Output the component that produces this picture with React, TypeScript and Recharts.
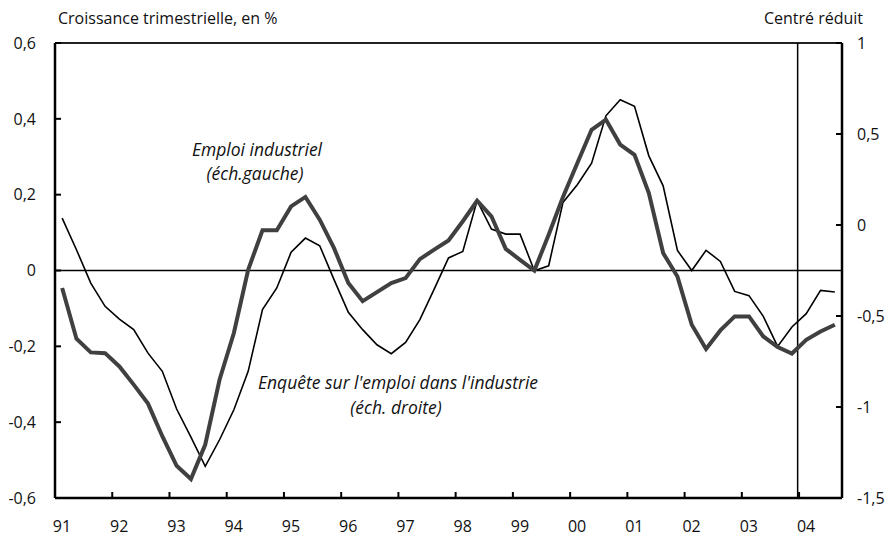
import { LineChart, Line, XAxis, YAxis, ReferenceLine } from "recharts";

// croissance trimestrielle de l'emploi industriel, en % (échelle gauche), 91T1 -> 04T3
const emploiIndustriel = [
  -0.046, -0.18, -0.216, -0.218, -0.253, -0.301, -0.351, -0.437, -0.515, -0.55,
  -0.459, -0.288, -0.165, 0.002, 0.106, 0.106, 0.169, 0.194, 0.134, 0.059,
  -0.033, -0.081, -0.057, -0.033, -0.02, 0.03, 0.055, 0.079, 0.13, 0.184,
  0.143, 0.057, 0.028, 0.0, 0.094, 0.194, 0.283, 0.371, 0.398, 0.332,
  0.305, 0.204, 0.046, -0.016, -0.143, -0.207, -0.158, -0.121, -0.121, -0.174,
  -0.202, -0.219, -0.183, -0.161, -0.143,
];

// enquête sur l'emploi dans l'industrie, centré réduit (échelle droite)
const enquete = [
  0.038, -0.136, -0.319, -0.447, -0.517, -0.575, -0.704, -0.804, -1.011, -1.165,
  -1.326, -1.18, -1.015, -0.804, -0.465, -0.346, -0.15, -0.072, -0.114, -0.3,
  -0.48, -0.575, -0.658, -0.707, -0.645, -0.52, -0.352, -0.181, -0.145, 0.134,
  -0.022, -0.05, -0.05, -0.251, -0.224, 0.124, 0.221, 0.34, 0.6, 0.688,
  0.652, 0.38, 0.215, -0.14, -0.25, -0.139, -0.2, -0.365, -0.388, -0.502,
  -0.667, -0.56, -0.487, -0.359, -0.368,
];

const years = ["91", "92", "93", "94", "95", "96", "97", "98", "99", "00", "01", "02", "03", "04"];
const leftTicks = [-0.6, -0.4, -0.2, 0, 0.2, 0.4, 0.6];
const rightTicks = [-1.5, -1, -0.5, 0, 0.5, 1];
// début de la période de prévision (en trimestres depuis 91T1)
const previsionStart = 51.9;

const data = emploiIndustriel.map((v, i) => ({ x: i + 0.5, emploi: v, enquete: enquete[i] }));
const yearTicks = years.map((_, i) => i * 4);

const FONT = "'Open Sans', Lato, sans-serif";
const fmt = (v: number) => String(v).replace(".", ",");

const LeftTick = (p: any) => (
  <g>
    <line x1={p.x} x2={p.x + 6} y1={p.y} y2={p.y} stroke="#000" strokeWidth={2} />
    <text x={p.x - 19} y={p.y} dy="0.36em" textAnchor="end" fontSize={16} fontFamily={FONT} fill="#111">
      {fmt(p.payload.value)}
    </text>
  </g>
);

const RightTick = (p: any) => (
  <g>
    <line x1={p.x - 6} x2={p.x} y1={p.y} y2={p.y} stroke="#000" strokeWidth={2} />
    <text x={p.x + 15} y={p.y} dy="0.36em" textAnchor="start" fontSize={16} fontFamily={FONT} fill="#111">
      {fmt(p.payload.value)}
    </text>
  </g>
);

const BottomTick = (p: any) => {
  const idx = Math.round(p.payload.value / 4);
  return (
    <g>
      {idx > 0 && <line x1={p.x} x2={p.x} y1={p.y - 6} y2={p.y} stroke="#000" strokeWidth={2} />}
      <text x={p.x + 7} y={p.y + 34} textAnchor="middle" fontSize={16} fontFamily={FONT} fill="#111">
        {years[idx]}
      </text>
    </g>
  );
};

export default function App() {
  return (
    <div style={{ position: "absolute", left: 0, top: 0, width: 894, height: 539, background: "#fff" }}>
      <LineChart width={894} height={539} data={data} margin={{ top: 43, right: 0, bottom: 0, left: 0 }}>
        <XAxis
          dataKey="x"
          type="number"
          domain={[0, 55]}
          ticks={yearTicks}
          interval={0}
          height={41}
          tickSize={0}
          tickMargin={0}
          tickLine={false}
          axisLine={{ stroke: "#000", strokeWidth: 2.5 }}
          tick={BottomTick}
        />
        <YAxis
          yAxisId="left"
          domain={[-0.6, 0.6]}
          ticks={leftTicks}
          interval={0}
          width={55}
          tickSize={0}
          tickMargin={0}
          tickLine={false}
          axisLine={{ stroke: "#000", strokeWidth: 2.5 }}
          tick={LeftTick}
        />
        <YAxis
          yAxisId="right"
          orientation="right"
          domain={[-1.5, 1]}
          ticks={rightTicks}
          interval={0}
          width={52}
          tickSize={0}
          tickMargin={0}
          tickLine={false}
          axisLine={{ stroke: "#000", strokeWidth: 2.5 }}
          tick={RightTick}
        />
        <ReferenceLine yAxisId="left" y={0.6} stroke="#222" strokeWidth={2} />
        <ReferenceLine yAxisId="left" y={0} stroke="#000" strokeWidth={1.5} />
        <ReferenceLine yAxisId="left" x={previsionStart} stroke="#000" strokeWidth={1.5} />
        <Line
          yAxisId="right"
          dataKey="enquete"
          stroke="#000"
          strokeWidth={1.6}
          dot={false}
          isAnimationActive={false}
          strokeLinejoin="miter"
        />
        <Line
          yAxisId="left"
          dataKey="emploi"
          stroke="#404040"
          strokeWidth={4}
          dot={false}
          isAnimationActive={false}
          strokeLinejoin="miter"
        />
      </LineChart>
      <svg
        width={894}
        height={539}
        style={{ position: "absolute", left: 0, top: 0, pointerEvents: "none" }}
        fontFamily={FONT}
        fill="#111"
      >
        <text x={58} y={24} fontSize={16}>Croissance trimestrielle, en %</text>
        <text x={863} y={24} fontSize={16} textAnchor="end">Centré réduit</text>
        <g fontSize={17.5} fontStyle="italic">
          <text x={257} y={156} textAnchor="middle">Emploi industriel</text>
          <text x={255} y={180} textAnchor="middle">(éch.gauche)</text>
          <text x={398} y={389} textAnchor="middle">Enquête sur l'emploi dans l'industrie</text>
          <text x={396} y={414} textAnchor="middle">(éch. droite)</text>
        </g>
      </svg>
    </div>
  );
}
